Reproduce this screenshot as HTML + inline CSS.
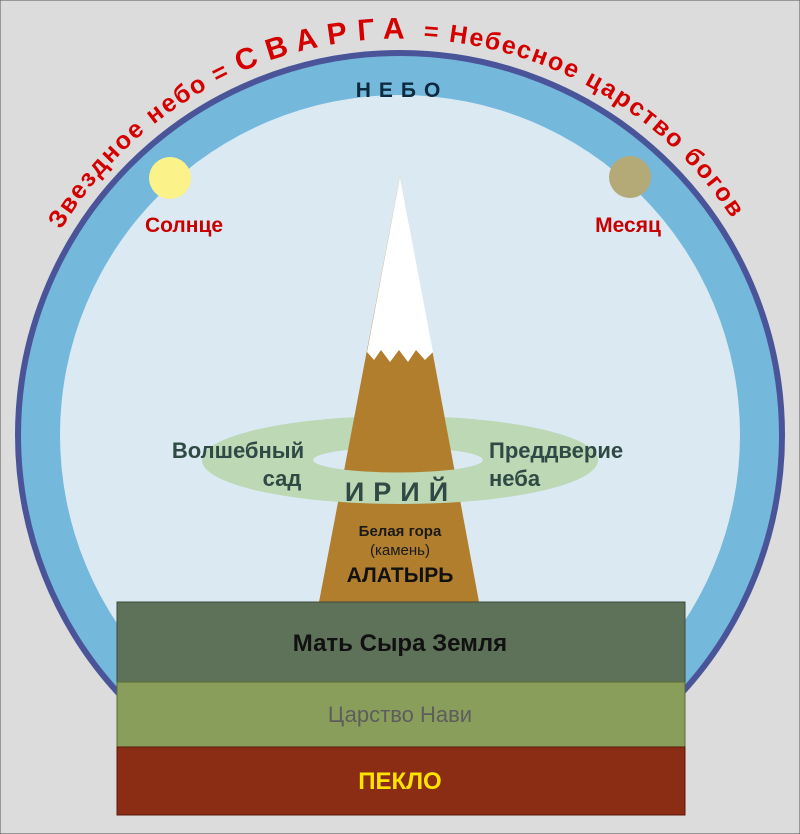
<!DOCTYPE html>
<html><head><meta charset="utf-8"><style>
html,body{margin:0;padding:0;background:#dcdcdc}
svg{display:block}
text{font-family:"Liberation Sans",sans-serif;font-weight:bold}
</style></head><body>
<svg width="800" height="834" viewBox="0 0 800 834" xmlns="http://www.w3.org/2000/svg">
<rect x="0" y="0" width="800" height="834" fill="#dcdcdc" stroke="#555" stroke-width="1"/>
<defs>
<path id="arc" d="M 58 235 A 396 396 0 0 1 742 235"/>
<clipPath id="low"><rect x="0" y="460" width="800" height="100"/></clipPath>
<clipPath id="top"><rect x="0" y="0" width="800" height="700"/></clipPath>
</defs>
<g clip-path="url(#top)">
<circle cx="400" cy="435" r="382" fill="#74b8dc" stroke="#4a5599" stroke-width="6"/>
<circle cx="400" cy="435" r="340" fill="#dbe9f3"/>
</g>
<text font-size="25" fill="#d40000"><textPath href="#arc" startOffset="6" textLength="800" lengthAdjust="spacing">Звездное  небо  =  <tspan font-size="30" letter-spacing="8">СВАРГА</tspan>  = Небесное  царство  богов</textPath></text>
<text x="402" y="97" font-size="21" fill="#0d2a40" text-anchor="middle" letter-spacing="8">НЕБО</text>
<circle cx="170" cy="178" r="21" fill="#fbf28a"/>
<circle cx="630" cy="177" r="21" fill="#b3aa78"/>
<text x="184" y="232" font-size="21" fill="#c80000" text-anchor="middle">Солнце</text>
<text x="628" y="232" font-size="21" fill="#c80000" text-anchor="middle">Месяц</text>
<path d="M202 460 A198 44 0 1 0 598 460 A198 44 0 1 0 202 460 Z M313 460 A85 12.5 0 1 1 483 460 A85 12.5 0 1 1 313 460 Z" fill="#bcd8b5" fill-rule="evenodd"/>
<polygon points="400,177 479,602 319,602" fill="#b07e2c"/>
<polygon points="400,177 433,352 425,360 416,350 408,362 399,350 390,362 381,350 374,360 367,352" fill="#ffffff"/>
<path d="M202 460 A198 44 0 1 0 598 460 A198 44 0 1 0 202 460 Z M313 460 A85 12.5 0 1 1 483 460 A85 12.5 0 1 1 313 460 Z" fill="#bcd8b5" fill-rule="evenodd" clip-path="url(#low)"/>
<text x="238" y="458" font-size="22" fill="#2f4a44" text-anchor="middle">Волшебный</text>
<text x="282" y="486" font-size="22" fill="#2f4a44" text-anchor="middle">сад</text>
<text x="489" y="458" font-size="22" fill="#2f4a44">Преддверие</text>
<text x="489" y="486" font-size="22" fill="#2f4a44">неба</text>
<text x="401" y="501" font-size="27" fill="#2f4a44" text-anchor="middle" letter-spacing="9">ИРИЙ</text>
<text x="400" y="536" font-size="15" fill="#1a1a1a" text-anchor="middle">Белая гора</text>
<text x="400" y="555" font-size="15" fill="#1a1a1a" text-anchor="middle" style="font-weight:normal">(камень)</text>
<text x="400" y="582" font-size="21" fill="#111" text-anchor="middle">АЛАТЫРЬ</text>
<rect x="117" y="602" width="568" height="80" fill="#5e7259" stroke="#3d4a3a" stroke-width="1"/>
<rect x="117" y="682" width="568" height="65" fill="#8a9e5b" stroke="#5a6a3a" stroke-width="1"/>
<rect x="117" y="747" width="568" height="68" fill="#8b2c14" stroke="#5a1a0a" stroke-width="1"/>
<text x="400" y="651" font-size="24" fill="#111" text-anchor="middle">Мать Сыра Земля</text>
<text x="400" y="722" font-size="22" fill="#5d5d5d" text-anchor="middle" style="font-weight:normal">Царство Нави</text>
<text x="400" y="789" font-size="24" fill="#ffe400" text-anchor="middle">ПЕКЛО</text>
</svg>
</body></html>
